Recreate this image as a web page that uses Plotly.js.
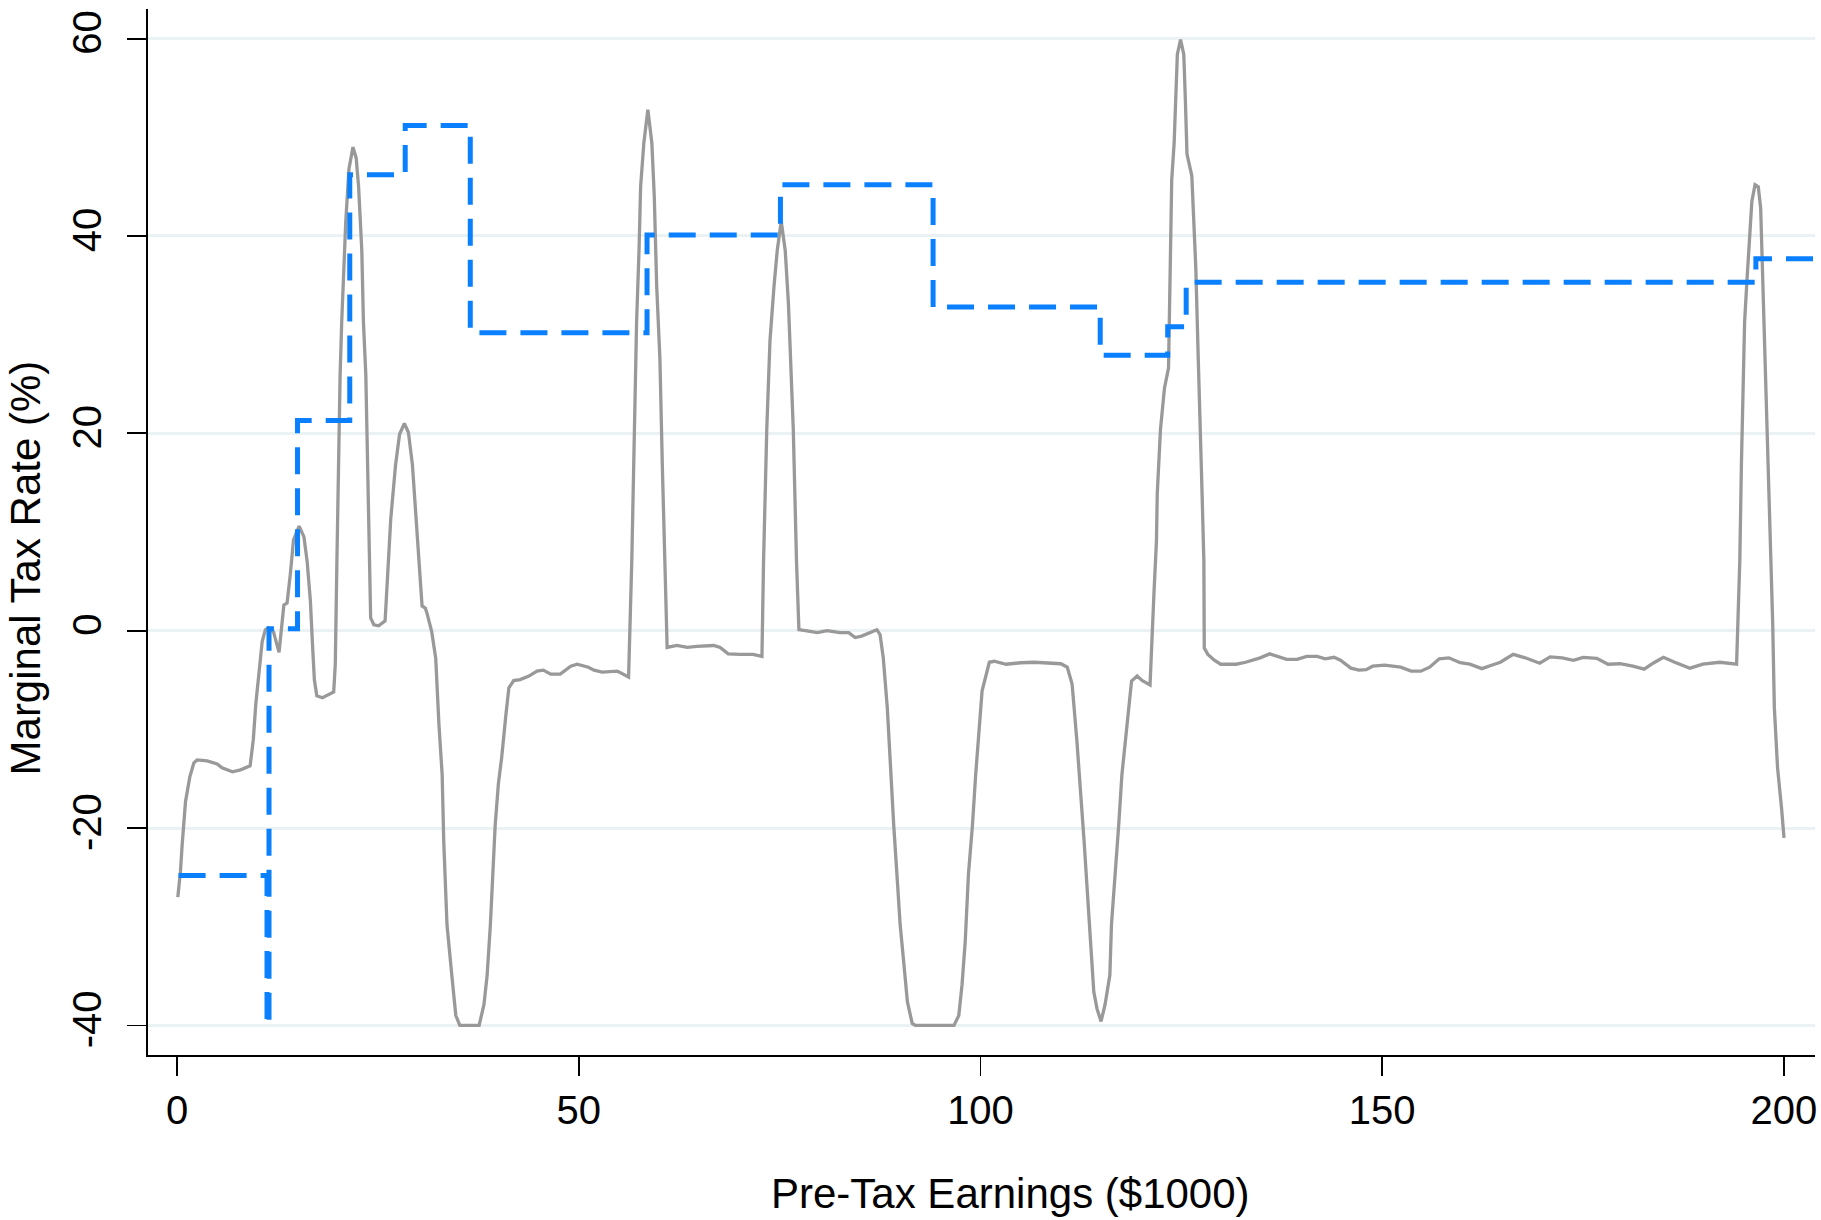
<!DOCTYPE html>
<html>
<head>
<meta charset="utf-8">
<script src="https://cdn.plot.ly/plotly-3.0.1.min.js"></script>
<style>
html, body { margin: 0; padding: 0; background: #ffffff; }
#chart { width: 1821px; height: 1220px; }
</style>
</head>
<body>
<div id="chart"></div>
<script>
// Gray series: marginal tax rate (%) by pre-tax earnings ($1000)
const grayEarnings = [
  0.1, 0.43, 0.64, 1.06, 1.6, 2.1, 2.5, 3.75, 5.0, 5.6, 6.9, 7.9, 9.1, 9.5, 9.8, 10.2, 10.6, 11.0, 11.4, 12.0,
  12.7, 13.3, 13.7, 14.1, 14.5, 15.2, 15.8, 16.2, 16.6, 16.9, 17.1, 17.4, 18.1, 19.5, 19.7, 19.9, 20.1, 20.3, 20.5, 20.8,
  21.0, 21.4, 21.9, 22.3, 22.6, 23.0, 23.2, 23.5, 23.7, 23.9, 24.1, 24.5, 25.1, 25.9, 26.1, 26.4, 26.6, 27.2, 27.7, 28.3,
  28.8, 29.3, 29.7, 30.1, 30.3, 30.5, 30.9, 31.1, 31.7, 32.2, 32.6, 33.0, 33.2, 33.6, 34.2, 34.7, 35.2, 37.6, 38.2, 38.6,
  39.0, 39.3, 39.6, 40.0, 40.4, 40.9, 41.3, 41.9, 42.7, 43.8, 44.8, 45.6, 46.5, 47.7, 49.0, 49.8, 51.2, 51.9, 52.9, 54.8,
  56.2, 56.6, 56.9, 57.2, 57.5, 57.7, 58.1, 58.6, 59.1, 59.4, 59.7, 60.1, 60.4, 60.7, 60.8, 61.0, 62.2, 63.5, 64.7, 66.8,
  67.6, 68.6, 70.1, 71.7, 72.8, 73.0, 73.4, 73.8, 74.3, 74.7, 75.2, 75.7, 76.1, 76.4, 76.7, 77.1, 77.2, 77.4, 78.2, 79.7,
  80.9, 82.5, 83.6, 84.4, 85.2, 86.3, 87.1, 87.5, 87.9, 88.4, 88.8, 89.2, 89.6, 90.0, 90.4, 90.9, 91.5, 91.9, 96.7, 97.3,
  97.7, 98.1, 98.5, 99.0, 99.4, 99.8, 100.2, 101.1, 101.7, 103.2, 105.0, 106.7, 108.3, 110.0, 110.8, 111.4, 112.0, 112.5, 112.9, 113.3,
  113.7, 114.1, 114.5, 115.0, 115.5, 116.1, 116.3, 116.8, 117.2, 117.6, 117.9, 118.3, 118.8, 119.5, 120.1, 121.1, 121.3, 121.6, 121.9, 122.0,
  122.4, 122.9, 123.4, 123.6, 123.8, 124.1, 124.3, 124.5, 124.9, 125.3, 125.5, 125.7, 126.3, 126.5, 126.8, 127.1, 127.4, 127.6, 127.8, 127.85,
  128.3, 129.1, 129.9, 131.8, 133.0, 134.8, 136.0, 136.9, 138.1, 139.4, 140.6, 141.9, 142.9, 144.0, 144.8, 146.1, 147.1, 148.0, 148.8, 150.3,
  152.3, 153.6, 154.8, 155.9, 157.1, 158.3, 159.7, 160.9, 162.4, 163.6, 164.7, 166.3, 167.8, 169.6, 170.9, 172.4, 173.8, 175.0, 176.7, 178.1,
  179.6, 181.2, 182.6, 183.7, 185.0, 186.4, 188.3, 189.9, 192.0, 194.1, 194.3, 194.5, 194.7, 195.1, 195.4, 195.7, 196.0, 196.4, 196.8, 197.1,
  197.4, 197.8, 198.3, 198.6, 198.8, 199.2, 199.7, 200.0
];
const grayRate = [
  -27.0, -24.4, -21.7, -17.3, -14.8, -13.4, -13.1, -13.2, -13.5, -13.9, -14.3, -14.1, -13.7, -11.0, -7.5, -4.4, -1.1, 0.1, 0.3, -0.1,
  -2.2, 2.6, 2.8, 5.7, 9.2, 10.6, 9.5, 7.0, 3.0, -2.0, -5.0, -6.6, -6.8, -6.2, -3.4, 7.0, 16.8, 25.9, 31.3, 38.5,
  41.4, 46.8, 49.0, 47.9, 45.0, 38.5, 31.3, 25.9, 16.8, 8.0, 1.3, 0.6, 0.5, 1.0, 4.0, 9.1, 11.3, 16.8, 19.9, 21.0,
  20.1, 16.8, 12.4, 7.5, 5.7, 2.5, 2.3, 1.8, -0.1, -2.8, -9.5, -14.6, -21.4, -29.8, -34.9, -39.0, -40, -40, -37.9, -34.9,
  -29.8, -24.7, -19.7, -15.5, -12.9, -8.8, -5.8, -5.05, -4.95, -4.6, -4.1, -4.0, -4.4, -4.4, -3.6, -3.4, -3.7, -4.0, -4.2, -4.1,
  -4.7, 7.05, 20.4, 31.3, 38.5, 45.0, 49.4, 52.8, 49.4, 44.0, 34.9, 27.6, 16.8, 7.0, 2.3, -1.7, -1.5, -1.7, -1.6, -1.5,
  -1.7, -2.35, -2.4, -2.4, -2.6, 7.05, 20.4, 29.4, 34.9, 38.5, 41.5, 38.5, 33.1, 27.6, 20.4, 7.05, 4.0, 0.1, 0.0, -0.2,
  0.0, -0.2, -0.2, -0.7, -0.55, -0.2, 0.1, -0.4, -2.75, -7.8, -14.6, -19.7, -24.7, -29.8, -33.2, -37.6, -39.8, -40, -40, -39.0,
  -35.9, -31.5, -24.7, -19.7, -14.6, -10.5, -6.1, -3.2, -3.1, -3.4, -3.25, -3.2, -3.25, -3.35, -3.7, -5.4, -11.2, -16.3, -21.4, -26.5,
  -31.5, -36.6, -38.3, -39.6, -37.9, -34.9, -29.8, -24.7, -19.7, -14.6, -12.2, -8.8, -5.1, -4.6, -5.05, -5.5, -1.1, 4.0, 9.1, 13.9,
  20.4, 24.6, 26.6, 38.5, 45.7, 49.4, 54.8, 58.4, 59.9, 58.4, 53.7, 48.3, 46.1, 42.1, 36.7, 27.6, 20.4, 13.2, 7.0, -1.75,
  -2.4, -3.0, -3.4, -3.4, -3.2, -2.75, -2.35, -2.6, -2.9, -2.9, -2.6, -2.6, -2.85, -2.7, -3.0, -3.8, -4.0, -3.95, -3.6, -3.5,
  -3.7, -4.1, -4.1, -3.7, -2.85, -2.75, -3.25, -3.4, -3.85, -3.5, -3.2, -2.4, -2.75, -3.3, -2.65, -2.75, -3.0, -2.7, -2.8, -3.4,
  -3.35, -3.6, -3.9, -3.3, -2.7, -3.2, -3.8, -3.4, -3.2, -3.4, 2.3, 7.05, 16.8, 31.3, 35.6, 40.3, 43.5, 45.2, 45.0, 42.8,
  34.9, 24.0, 9.1, 0.6, -7.8, -13.9, -18.0, -21.0
];

// Blue series: statutory step schedule (step start earnings, rate)
const stepEarnings = [0.2, 11.2, 11.45, 15.0, 21.5, 28.4, 36.5, 58.5, 75.1, 94.1, 114.9, 123.3, 125.6, 196.5, 204.5];
const stepRate     = [-24.8, -40, 0.2, 21.3, 46.2, 51.2, 30.2, 40.1, 45.2, 32.8, 27.9, 30.8, 35.3, 37.7, 37.7];

const xTicks = [0, 50, 100, 150, 200];
const yTicks = [-40, -20, 0, 20, 40, 60];
const xTitle = "Pre-Tax Earnings ($1000)";
const yTitle = "Marginal Tax Rate (%)";

const FONT = "Liberation Sans, Arial, Helvetica, sans-serif";

const traces = [
  {
    x: grayEarnings, y: grayRate, type: "scatter", mode: "lines",
    line: { color: "#999999", width: 3.3 },
    hoverinfo: "x+y"
  },
  {
    x: stepEarnings, y: stepRate, type: "scatter", mode: "lines",
    line: { color: "#0a80ff", width: 5, dash: "27px,14px", shape: "hv" },
    hoverinfo: "x+y"
  }
];

const layout = {
  width: 1821, height: 1220,
  margin: { l: 148, r: 6, t: 9, b: 165 },
  paper_bgcolor: "#ffffff", plot_bgcolor: "#ffffff",
  showlegend: false,
  font: { family: FONT, color: "#000000", size: 40 },
  xaxis: {
    range: [-3.61, 203.86],
    tickvals: xTicks, ticktext: xTicks.map(String),
    ticks: "outside", ticklen: 19, tickwidth: 1.8, tickcolor: "#000000",
    showline: true, linecolor: "#000000", linewidth: 2.2,
    showgrid: false, zeroline: false,
    tickfont: { family: FONT, size: 40, color: "#000000" },
    ticklabelstandoff: 0,
    automargin: false
  },
  yaxis: {
    range: [-43.0, 63.0],
    tickvals: yTicks, ticktext: yTicks.map(String),
    tickangle: -90,
    ticks: "outside", ticklen: 19, tickwidth: 1.8, tickcolor: "#000000",
    showline: true, linecolor: "#000000", linewidth: 2.2,
    showgrid: true, gridcolor: "#eaf2f3", gridwidth: 3,
    zeroline: false,
    tickfont: { family: FONT, size: 40, color: "#000000" },
    ticklabelstandoff: 10,
    automargin: false
  },
  annotations: [
    {
      text: xTitle, xref: "paper", yref: "paper", x: 0.5172, y: -0.1325,
      xanchor: "center", yanchor: "middle", showarrow: false,
      font: { family: FONT, size: 42, color: "#000000" }
    },
    {
      text: yTitle, xref: "paper", yref: "paper", x: -0.0729, y: 0.4656,
      xanchor: "center", yanchor: "middle", textangle: -90, showarrow: false,
      font: { family: FONT, size: 42, color: "#000000" }
    }
  ]
};

Plotly.newPlot("chart", traces, layout, { displayModeBar: false, staticPlot: true });
</script>
</body>
</html>
